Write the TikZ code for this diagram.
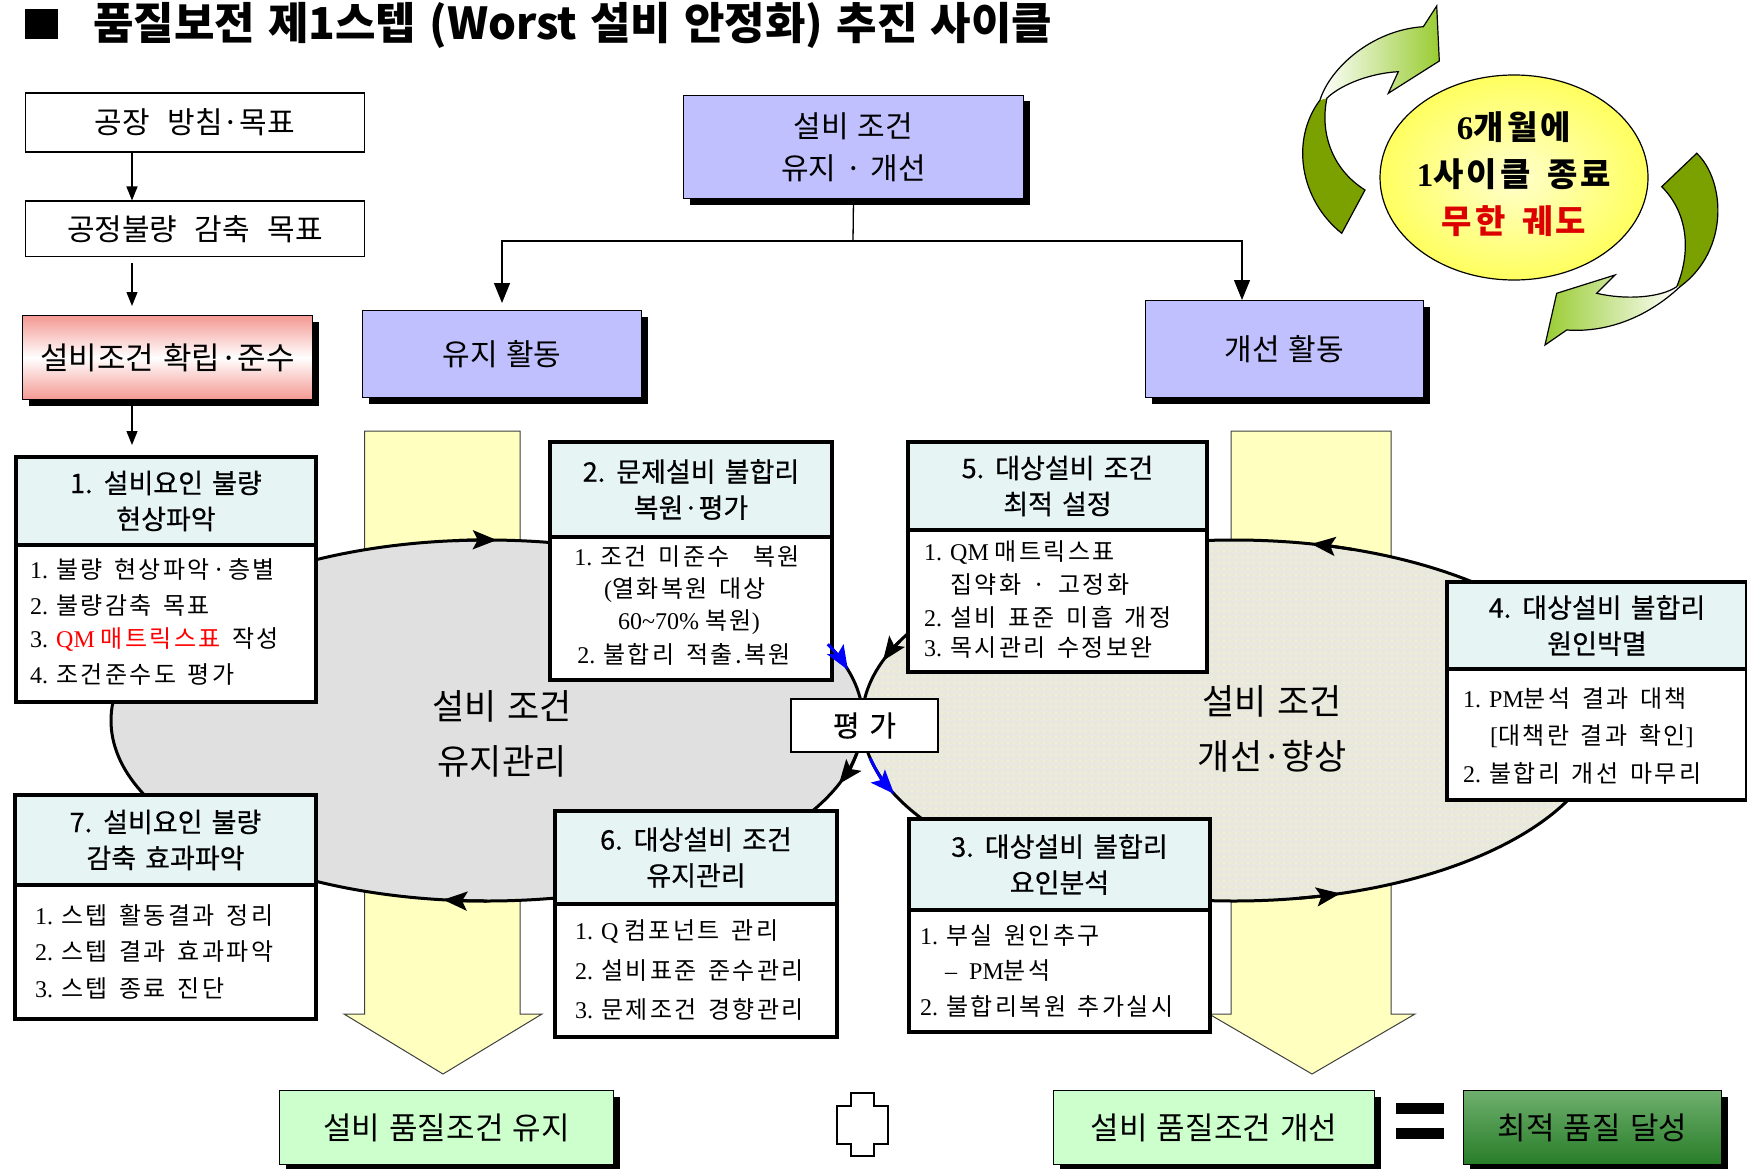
\documentclass[tikz,border=0pt]{standalone}
\usepackage{graphicx}
\usepackage{fontspec}
\setmainfont{Liberation Serif}
\newfontfamily\kr[WordSpace=1.3]{Noto Sans CJK KR}
\newfontfamily\krh[WordSpace=1.5,FakeBold=0.5]{Noto Sans CJK KR}
\newfontfamily\kri[WordSpace=1.8,LetterSpace=10]{Noto Sans CJK KR}
\newfontfamily\krc[WordSpace=1.5,LetterSpace=10]{Noto Sans CJK KR}
\usetikzlibrary{arrows.meta,shadows,patterns.meta,shapes.geometric}
\definecolor{lav}{RGB}{192,192,255}
\definecolor{hdr}{RGB}{230,244,244}
\definecolor{ltgreen}{RGB}{204,255,204}
\definecolor{salmon}{RGB}{244,152,146}
\definecolor{paley}{RGB}{255,255,192}
\definecolor{egray}{RGB}{224,224,224}
\definecolor{ebeige}{RGB}{232,232,222}
\definecolor{dotyel}{RGB}{250,250,190}
\definecolor{dkolive}{RGB}{122,161,0}
\definecolor{ygreen}{RGB}{153,204,51}
\definecolor{cycin}{RGB}{255,255,205}
\definecolor{cycout}{RGB}{255,255,95}
\definecolor{cred}{RGB}{220,0,0}
\definecolor{dgreen}{RGB}{40,125,40}
\definecolor{mgreen}{RGB}{110,175,110}
\definecolor{wgreen}{RGB}{235,248,235}
\newcommand\tm[1]{{\rmfamily #1}}
\newcommand\tb[1]{{\rmfamily\bfseries #1}}
\newcommand\ringarrow[7]{\draw[#1] (#2,#3) ++(#6:#4 and #5) arc[start angle=#6, end angle=#7, x radius=#4, y radius=#5];}
\begin{document}
\begin{tikzpicture}[x=1pt,y=-1pt,
  hardshadow/.style={general shadow={fill=black, shadow xshift=6pt, shadow yshift=-6pt}},
  flatbox/.style={draw, line width=1.3pt, fill=white, inner sep=0pt, anchor=north west, font=\kr\fontsize{30}{34}\selectfont},
  lavbox/.style={draw, line width=1pt, fill=lav, hardshadow, inner sep=0pt, anchor=north west, align=center, font=\kr\fontsize{30}{42}\selectfont},
  greenbox/.style={draw, line width=1pt, fill=ltgreen, hardshadow, inner sep=0pt, anchor=north west, font=\kr\fontsize{31}{34}\selectfont},
  head/.style={draw, line width=4pt, fill=hdr, inner sep=0pt, anchor=north west, align=center, font=\krh\fontsize{27}{36}\selectfont},
  body/.style={draw, line width=4pt, fill=white, inner sep=0pt, anchor=north west},
  item/.style={anchor=west, inner sep=0pt, font=\kri\fontsize{24}{27}\selectfont},
  citem/.style={item, anchor=center},
  arr/.style={-{Triangle[length=14pt,width=11pt]}, line width=1.3pt},
  bigarr/.style={-{Triangle[length=20pt,width=16pt]}, line width=1.3pt},
  biglabel/.style={font=\kr\fontsize{35}{55}\selectfont, align=center, inner sep=0pt},
  blk/.style={-{Stealth[length=24pt,width=19pt,inset=5pt]}, line width=3pt},
  blu/.style={blk, blue},
  yarrow/.style={fill=paley, draw=black!75, line width=1pt},
  gout/.style={draw=black, line width=1.2pt},
]
\useasboundingbox (0,0) rectangle (1747,1169);
\fill[white] (0,0) rectangle (1747,1169);

% title
\fill (24.5,9) rectangle (58,39);
\node[anchor=west, inner sep=0pt, font=\kr\bfseries\fontsize{44}{48}\selectfont] (title) at (93,25) {\scalebox{1.0}[1.0]{품질보전 제1스텝 (Worst 설비 안정화) 추진 사이클}};

% left column
\node[flatbox, minimum width=339.5, minimum height=59] (f1) at (24.5,92.5) {공장\ \ 방침·목표};
\node[flatbox, minimum width=339.5, minimum height=55.5] (f2) at (24.5,200.5) {공정불량\ \ 감축\ \ 목표};
\node[draw, line width=1pt, hardshadow, top color=salmon, bottom color=salmon, middle color=white, minimum width=290, minimum height=84, anchor=north west, inner sep=0pt, font=\kr\fontsize{31}{35}\selectfont] (red) at (22,315) {설비조건 확립·준수};

% top tree
\node[lavbox, minimum width=340, minimum height=103] (tc) at (683,95) {설비 조건\\유지 · 개선};
\node[lavbox, minimum width=279, minimum height=87] (yh) at (362,310) {유지 활동};
\node[lavbox, minimum width=278, minimum height=97] (gh) at (1145,300) {개선 활동};
\coordinate (tj) at (853,241);
\coordinate (gx) at (1242,0);
\draw[line width=1.3pt] (tc.south) -- (tj);
\draw[bigarr, shorten >=7pt] (tj) -| (yh.north);
\draw[bigarr] (tj) -| (gh.north -| gx);

% big yellow arrows
\draw[yarrow] (364.5,431) -- (520,431) -- (520,1014) -- (542,1014) -- (443,1074) -- (344,1014) -- (364.5,1014) -- cycle;
\draw[yarrow] (1231,431) -- (1391,431) -- (1391,1014) -- (1415,1014) -- (1312,1074) -- (1209,1014) -- (1231,1014) -- cycle;

% ellipses
\draw[line width=3pt, fill=egray] (487,720.5) ellipse [x radius=376, y radius=180.5];
\fill[ebeige] (1234,720.5) ellipse [x radius=372, y radius=180.5];
\fill[pattern={Dots[distance=6pt,radius=0.9pt]}, pattern color=dotyel] (1234,720.5) ellipse [x radius=372, y radius=180.5];
\draw[line width=3pt] (1234,720.5) ellipse [x radius=372, y radius=180.5];

\node[biglabel] (lm) at (502,733.5) {설비 조건\\유지관리};
\node[biglabel] (rm) at (1272,728.5) {설비 조건\\개선·향상};

% step boxes
% B1
\node[body, minimum width=300, minimum height=157] (b1b) at (14,543) {};
\node[head, minimum width=300, minimum height=88] (b1h) at (14,455) {1. 설비요인 불량\\현상파악};
\node[item] (b1i1) at (30,569) {\tm{1. }불량 현상파악·층별};
\node[item] (b1i2) at (30,605) {\tm{2. }불량감축 목표};
\node[item] (b1i3) at (30,640) {\tm{3. }\textcolor{red}{\tm{QM }매트릭스표} 작성};
\node[item] (b1i4) at (30,675) {\tm{4. }조건준수도 평가};
% B7
\node[body, minimum width=301, minimum height=134] (b7b) at (13,883) {};
\node[head, minimum width=301, minimum height=90] (b7h) at (13,793) {7. 설비요인 불량\\감축 효과파악};
\node[item] (b7i1) at (35,915) {\tm{1. }스텝 활동결과 정리};
\node[item] (b7i2) at (35,952) {\tm{2. }스텝 결과 효과파악};
\node[item] (b7i3) at (35,988) {\tm{3. }스텝 종료 진단};
% B2
\node[body, minimum width=282, minimum height=143] (b2b) at (548,535) {};
\node[head, minimum width=282, minimum height=95] (b2h) at (548,440) {2. 문제설비 불합리\\복원·평가};
\node[citem] (b2i1) at (687,557) {\tm{1. }조건 미준수\ \ 복원};
\node[citem] (b2i2) at (685,590) {\tm{(}열화복원 대상};
\node[citem] (b2i3) at (689,622) {\tm{60\textasciitilde70\% }복원\tm{)}};
\node[citem] (b2i4) at (684,654) {\tm{2. }불합리 적출.복원};
% B5
\node[body, minimum width=299, minimum height=142] (b5b) at (906,528) {};
\node[head, minimum width=299, minimum height=88] (b5h) at (906,440) {5. 대상설비 조건\\최적 설정};
\node[item] (b5i1) at (924,553) {\tm{1. QM }매트릭스표};
\node[item] (b5i2) at (950,585) {집약화 · 고정화};
\node[item] (b5i3) at (924,617) {\tm{2. }설비 표준 미흡 개정};
\node[item] (b5i4) at (924,648) {\tm{3. }목시관리 수정보완};
% B4
\node[body, minimum width=300, minimum height=131] (b4b) at (1445,667) {};
\node[head, minimum width=300, minimum height=87] (b4h) at (1445,580) {4. 대상설비 불합리\\원인박멸};
\node[item] (b4i1) at (1463,699) {\tm{1. PM}분석 결과 대책};
\node[item] (b4i2) at (1490,736) {\tm{[}대책란 결과 확인\tm{]}};
\node[item] (b4i3) at (1463,773) {\tm{2. }불합리 개선 마무리};
% B6
\node[body, minimum width=282, minimum height=133] (b6b) at (553,902) {};
\node[head, minimum width=282, minimum height=93] (b6h) at (553,809) {6. 대상설비 조건\\유지관리};
\node[item] (b6i1) at (575,932) {\tm{1. Q }컴포넌트 관리};
\node[item] (b6i2) at (575,971) {\tm{2. }설비표준 준수관리};
\node[item] (b6i3) at (575,1009) {\tm{3. }문제조건 경향관리};
% B3
\node[body, minimum width=301, minimum height=122] (b3b) at (907,908) {};
\node[head, minimum width=301, minimum height=91] (b3h) at (907,817) {3. 대상설비 불합리\\요인분석};
\node[item] (b3i1) at (920,936) {\tm{1. }부실 원인추구};
\node[item] (b3i2) at (945,971) {\tm{–\ \ PM}분석};
\node[item] (b3i3) at (920,1006) {\tm{2. }불합리복원 추가실시};

% ring arrowheads
\ringarrow{blk}{487}{720.5}{376}{180.5}{265}{271.5}
\ringarrow{blk}{487}{720.5}{376}{180.5}{90}{96.7}
\ringarrow{blu}{487}{720.5}{376}{180.5}{335}{343.7}
\ringarrow{blk}{487}{720.5}{376}{180.5}{8}{20.6}
\ringarrow{blk}{1234}{720.5}{372}{180.5}{-71.5}{-78}
\ringarrow{blk}{1234}{720.5}{372}{180.5}{79.9}{73.4}
\ringarrow{blk}{1234}{720.5}{372}{180.5}{206}{199.3}
\ringarrow{blu}{1234}{720.5}{372}{180.5}{168}{156}

\node[draw, line width=1.5pt, fill=white, minimum width=147, minimum height=53, inner sep=0pt, font=\krh\fontsize{29}{33}\selectfont] (pg) at (864.5,725.5) {평 가};

% left column arrows
\coordinate (lx) at (132,0);
\draw[arr] (f1.south -| lx) -- (f2.north -| lx);
\draw[arr, shorten <=6pt, shorten >=9pt] (f2.south -| lx) -- (red.north -| lx);
\draw[arr, shorten >=10pt] (red.south -| lx) -- (b1h.north -| lx);

% bottom row
\node[greenbox, minimum width=334, minimum height=74] (gb1) at (279,1090) {설비 품질조건 유지};
\draw[line width=1.2pt, fill=white] (851,1093) -- (874,1093) -- (874,1106) -- (888,1106) -- (888,1144) -- (874,1144) -- (874,1156) -- (851,1156) -- (851,1144) -- (837,1144) -- (837,1106) -- (851,1106) -- cycle;
\node[greenbox, minimum width=321, minimum height=74] (gb2) at (1053,1090) {설비 품질조건 개선};
\fill (1396,1103) rectangle (1444,1114);
\fill (1396,1128) rectangle (1444,1139);
\node[draw, line width=1pt, hardshadow, top color=mgreen, middle color=wgreen, bottom color=dgreen, minimum width=258, minimum height=74, anchor=north west, inner sep=0pt, font=\kr\fontsize{31}{34}\selectfont] (gb3) at (1463,1090) {최적 품질 달성};

% cycle arrows
\fill[dkolive] (1341.7,233.3) .. controls (1300,200) and (1290,140) .. (1320,100) -- (1327,98) .. controls (1320,130) and (1330,168) .. (1365,190) -- cycle;
\shade[left color=white, right color=ygreen] (1320,100) .. controls (1330,68) and (1372,30) .. (1423.3,26.7) -- (1436.7,6) -- (1439.3,61) -- (1388.3,93.3) -- (1398.3,71.7) .. controls (1373,73) and (1343,83) .. (1327,98) -- cycle;
\draw[gout] (1341.7,233.3) .. controls (1300,200) and (1290,140) .. (1320,100) .. controls (1330,68) and (1372,30) .. (1423.3,26.7) -- (1436.7,6) -- (1439.3,61) -- (1388.3,93.3) -- (1398.3,71.7) .. controls (1373,73) and (1343,83) .. (1327,98) .. controls (1320,130) and (1330,168) .. (1365,190) -- cycle;

\fill[dkolive] (1696.7,153.3) .. controls (1725,180) and (1730,250) .. (1680,286.7) -- (1676.7,286.7) .. controls (1690,255) and (1690,215) .. (1661.7,186.7) -- cycle;
\shade[left color=ygreen, right color=white] (1680,286.7) .. controls (1650,315) and (1610,333) .. (1566.7,330) -- (1545,345) -- (1556.7,293.3) -- (1615,275) -- (1596.7,293.3) .. controls (1625,300) and (1660,298) .. (1676.7,286.7) -- cycle;
\draw[gout] (1696.7,153.3) .. controls (1725,180) and (1730,250) .. (1680,286.7) .. controls (1650,315) and (1610,333) .. (1566.7,330) -- (1545,345) -- (1556.7,293.3) -- (1615,275) -- (1596.7,293.3) .. controls (1625,300) and (1660,298) .. (1676.7,286.7) .. controls (1690,255) and (1690,215) .. (1661.7,186.7) -- cycle;

\node[ellipse, draw, line width=1.2pt, minimum width=268, minimum height=205, inner sep=0pt, inner color=cycin, outer color=cycout] (cyc) at (1514,177.5) {};
\node[align=center, inner sep=0pt, font=\krc\bfseries\fontsize{33}{47}\selectfont] (cyct) at (1514,174.5) {\tb{6}개월에\\\tb{1}사이클 종료\\\textcolor{cred}{무한 궤도}};
\end{tikzpicture}
\end{document}
